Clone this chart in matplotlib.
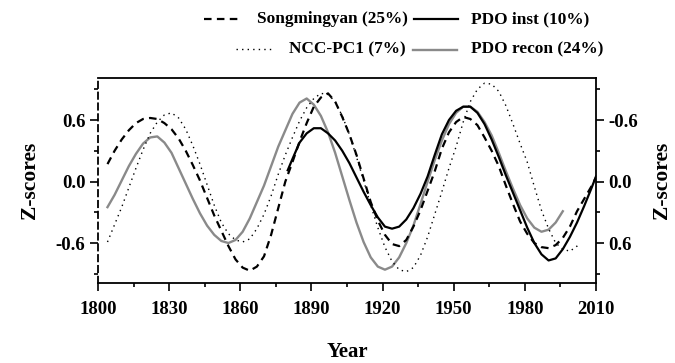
import matplotlib
matplotlib.use("Agg")
import matplotlib.pyplot as plt
from matplotlib.ticker import MultipleLocator, FixedLocator, FuncFormatter
from matplotlib.lines import Line2D

plt.rcParams['font.family'] = ['Liberation Serif', 'DejaVu Serif']
plt.rcParams['font.weight'] = 'bold'
plt.rcParams['axes.unicode_minus'] = False

# ---------------- data ----------------
song_years = [1804, 1807, 1810, 1813, 1816, 1819, 1822, 1825, 1828, 1831, 1834, 1837, 1840,
              1843, 1846, 1849, 1852, 1855, 1858, 1861, 1864, 1867, 1870, 1873, 1876, 1879,
              1882, 1885, 1888, 1891, 1894, 1897, 1900, 1903, 1906, 1909, 1912, 1915, 1918,
              1921, 1924, 1927, 1930, 1933, 1936, 1939, 1942, 1945, 1948, 1951, 1954, 1957,
              1960, 1963, 1966, 1969, 1972, 1975, 1978, 1981, 1984, 1987, 1990, 1993, 1996,
              1999, 2002, 2005, 2008, 2010]
song_vals = [0.17, 0.30, 0.41, 0.50, 0.57, 0.61, 0.62, 0.61, 0.57, 0.51, 0.42, 0.30, 0.16,
             0.01, -0.16, -0.33, -0.48, -0.63, -0.76, -0.84, -0.87, -0.83, -0.73, -0.52, -0.26, 0.0,
             0.19, 0.39, 0.57, 0.73, 0.82, 0.86, 0.78, 0.63, 0.46, 0.26, 0.03, -0.20, -0.38,
             -0.52, -0.61, -0.63, -0.57, -0.44, -0.28, -0.09, 0.10, 0.32, 0.48, 0.58, 0.63, 0.61,
             0.55, 0.43, 0.30, 0.15, -0.04, -0.22, -0.39, -0.51, -0.60, -0.64, -0.65, -0.62, -0.55,
             -0.44, -0.29, -0.17, -0.05, 0.04]

ncc_years = [1804, 1807, 1810, 1813, 1816, 1819, 1822, 1825, 1828, 1831, 1834, 1837, 1840,
             1843, 1846, 1849, 1852, 1855, 1858, 1861, 1864, 1867, 1870, 1873, 1876, 1879,
             1882, 1885, 1888, 1891, 1894, 1897, 1900, 1903, 1906, 1909, 1912, 1915, 1918,
             1921, 1924, 1927, 1930, 1933, 1936, 1939, 1942, 1945, 1948, 1951, 1954, 1957,
             1960, 1963, 1966, 1969, 1972, 1975, 1978, 1981, 1984, 1987, 1990, 1993, 1996,
             1999, 2002, 2003]
ncc_vals = [-0.59, -0.42, -0.25, -0.06, 0.13, 0.31, 0.47, 0.58, 0.65, 0.67, 0.62, 0.51, 0.35,
            0.17, -0.03, -0.23, -0.40, -0.51, -0.57, -0.59, -0.56, -0.46, -0.32, -0.14, 0.07, 0.26,
            0.43, 0.59, 0.72, 0.81, 0.86, 0.85, 0.78, 0.64, 0.46, 0.24, 0.01, -0.23, -0.45,
            -0.64, -0.78, -0.86, -0.88, -0.84, -0.72, -0.54, -0.32, -0.10, 0.13, 0.34, 0.58, 0.78,
            0.90, 0.96, 0.95, 0.88, 0.74, 0.56, 0.37, 0.19, -0.05, -0.28, -0.46, -0.60, -0.66,
            -0.68, -0.63, -0.60]

inst_years = [1880, 1882, 1885, 1888, 1891, 1894, 1897, 1900, 1903, 1906, 1909, 1912, 1915,
              1918, 1921, 1924, 1927, 1930, 1933, 1936, 1939, 1942, 1945, 1948, 1951, 1954,
              1957, 1960, 1963, 1966, 1969, 1972, 1975, 1978, 1981, 1984, 1987, 1990, 1993,
              1996, 1999, 2002, 2005, 2008, 2010]
inst_vals = [0.11, 0.22, 0.38, 0.47, 0.52, 0.52, 0.47, 0.40, 0.30, 0.18, 0.04, -0.10, -0.23,
             -0.35, -0.44, -0.46, -0.44, -0.37, -0.26, -0.12, 0.05, 0.26, 0.46, 0.60, 0.69, 0.73,
             0.73, 0.67, 0.56, 0.41, 0.24, 0.06, -0.11, -0.28, -0.45, -0.60, -0.71, -0.77, -0.75,
             -0.66, -0.54, -0.40, -0.24, -0.07, 0.05]

recon_years = [1804, 1807, 1810, 1813, 1816, 1819, 1822, 1825, 1828, 1831, 1834, 1837, 1840,
               1843, 1846, 1849, 1852, 1855, 1858, 1861, 1864, 1867, 1870, 1873, 1876, 1879,
               1882, 1885, 1888, 1891, 1894, 1897, 1900, 1903, 1906, 1909, 1912, 1915, 1918,
               1921, 1924, 1927, 1930, 1933, 1936, 1939, 1942, 1945, 1948, 1951, 1954, 1957,
               1960, 1963, 1966, 1969, 1972, 1975, 1978, 1981, 1984, 1987, 1990, 1993, 1996]
recon_vals = [-0.25, -0.13, 0.01, 0.15, 0.27, 0.37, 0.43, 0.44, 0.38, 0.28, 0.13, -0.02, -0.17,
              -0.31, -0.43, -0.52, -0.58, -0.60, -0.57, -0.49, -0.36, -0.20, -0.04, 0.15, 0.34, 0.50,
              0.66, 0.77, 0.81, 0.75, 0.64, 0.48, 0.28, 0.05, -0.18, -0.40, -0.59, -0.74, -0.83,
              -0.86, -0.83, -0.74, -0.60, -0.43, -0.22, 0.0, 0.21, 0.40, 0.56, 0.67, 0.73, 0.73,
              0.68, 0.58, 0.45, 0.28, 0.10, -0.07, -0.23, -0.36, -0.45, -0.49, -0.47, -0.40, -0.29]

legend_labels = ['Songmingyan (25%)', 'PDO inst (10%)', 'NCC-PC1 (7%)', 'PDO recon (24%)']
x_ticks = [1800, 1830, 1860, 1890, 1920, 1950, 1980, 2010]
y_ticks = [-0.6, 0.0, 0.6]

GRAY = '#8a8a8a'
W, H = 675, 363

fig = plt.figure(figsize=(W / 100, H / 100), dpi=100)
ax = fig.add_axes([98 / W, 1 - 283 / H, (596 - 98) / W, (283 - 78) / H])

ax.plot(recon_years, recon_vals, color=GRAY, lw=1.7, zorder=2)
ax.plot(ncc_years, ncc_vals, color='black', lw=1.0, linestyle=(0, (1, 3.0)), zorder=3)
ax.plot(song_years, song_vals, color='black', lw=1.6, linestyle=(0, (3.4, 2.4)), zorder=4)
ax.plot(inst_years, inst_vals, color='black', lw=1.6, zorder=5)

ax.set_xlim(1800, 2010)
ax.set_ylim(-0.99, 1.01)
ax.xaxis.set_major_locator(FixedLocator(x_ticks))
ax.xaxis.set_minor_locator(MultipleLocator(15))
ax.yaxis.set_major_locator(FixedLocator(y_ticks))
ax.yaxis.set_minor_locator(FixedLocator([-0.9, -0.3, 0.3, 0.9]))
ax.yaxis.set_major_formatter(FuncFormatter(lambda v, p: f"{v:.1f}".replace("-0.0", "0.0")))

for s in ['top', 'bottom', 'right']:
    ax.spines[s].set_linewidth(1.3)
ax.spines['left'].set_linewidth(1.3)
ax.spines['left'].set_linestyle((0, (3.5, 2.5)))
ax.spines['right'].set_visible(False)

ax.tick_params(axis='both', which='major', direction='out', length=6, width=1.2,
               labelsize=13.5, pad=3)
ax.tick_params(axis='both', which='minor', direction='out', length=3, width=1.2)
ax.tick_params(axis='x', which='major', pad=7)
ax.set_xlabel('Year', fontsize=15, fontweight='bold', labelpad=17)
ax.set_ylabel('Z-scores', fontsize=15.5, fontweight='bold', labelpad=11)

ax2 = ax.twinx()
ax2.set_ylim(0.99, -1.01)
for s in ['top', 'bottom', 'left']:
    ax2.spines[s].set_visible(False)
ax2.spines['right'].set_linewidth(1.3)
ax2.yaxis.set_major_locator(FixedLocator(y_ticks))
ax2.yaxis.set_minor_locator(FixedLocator([-0.9, -0.3, 0.3, 0.9]))
ax2.yaxis.set_major_formatter(FuncFormatter(lambda v, p: f"{v:.1f}".replace("-0.0", "0.0")))
ax2.tick_params(axis='y', which='major', direction='out', length=6, width=1.2,
                labelsize=13.5, pad=3)
ax2.tick_params(axis='y', which='minor', direction='out', length=3, width=1.2)
ax2.set_ylabel('Z-scores', fontsize=15.5, fontweight='bold', labelpad=10)

# ---------------- legend (manual, two rows above the plot) ----------------
def fx(px):
    return px / W

def fy(py):
    return 1 - py / H

handles = [
    ((204, 240, 19), dict(color='black', lw=1.6, linestyle=(0, (3.4, 2.4)))),
    ((414, 458, 19), dict(color='black', lw=1.6)),
    ((236, 273, 49), dict(color='black', lw=1.0, linestyle=(0, (1, 3.0)))),
    ((413, 457, 50), dict(color=GRAY, lw=1.7)),
]
text_pos = [(257, 19), (471, 19), (289, 49), (471, 49)]
for ((x0, x1, yy), st), lab, (tx, ty) in zip(handles, legend_labels, text_pos):
    fig.add_artist(Line2D([fx(x0), fx(x1)], [fy(yy), fy(yy)], transform=fig.transFigure, **st))
    fig.text(fx(tx), fy(ty), lab, fontsize=12.4, fontweight='bold', ha='left', va='center')

fig.savefig('out.png', dpi=100)
